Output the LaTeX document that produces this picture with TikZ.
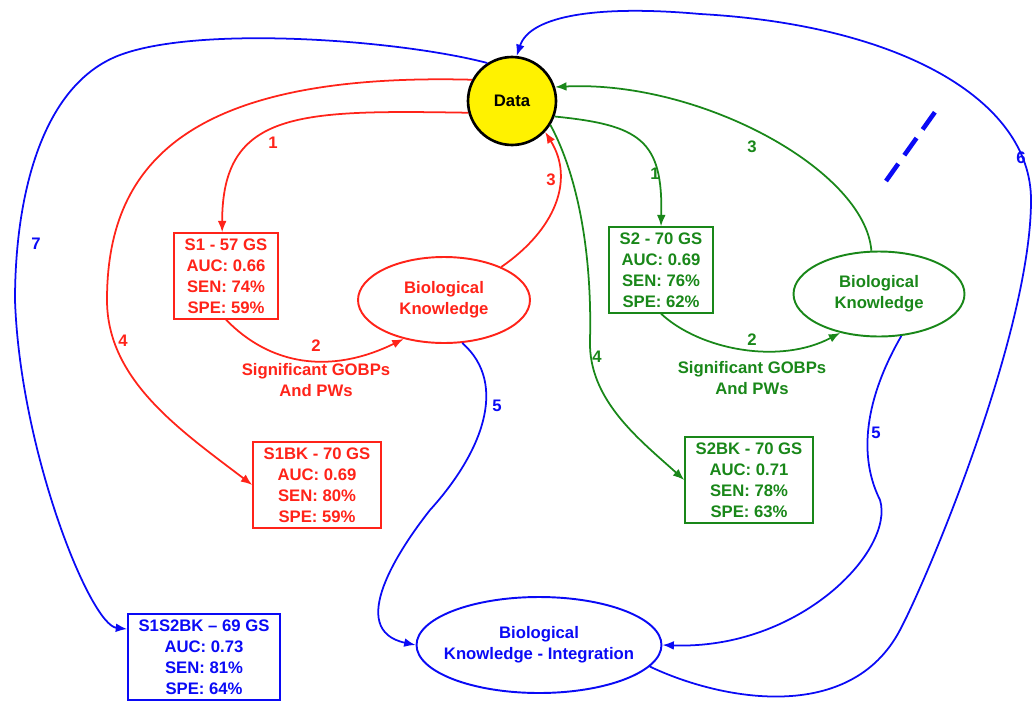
\documentclass[tikz,border=0pt]{standalone}
\usepackage{fontspec}
\setmainfont{Liberation Sans}
\usepackage{xcolor}
\usepackage{tikz}
\usetikzlibrary{positioning,arrows.meta,shapes.geometric}

\definecolor{sred}{RGB}{255,35,25}
\definecolor{sgreen}{RGB}{25,135,25}
\definecolor{sblue}{RGB}{10,10,245}

\begin{document}
\begin{tikzpicture}[x=0.02cm, y=-0.02cm,
    every node/.style={font=\fontsize{9.5}{12}\selectfont\bfseries},
    datanode/.style={circle, draw=black, fill=yellow, line width=1.5pt, minimum size=1.76cm, inner sep=0pt, text=black},
    res/.style={draw, rectangle, line width=1pt, align=center, inner xsep=6pt, inner ysep=3pt},
    know/.style={draw, ellipse, line width=1.1pt, align=center, inner sep=0pt},
    num/.style={inner sep=1pt},
    link/.style={line width=1pt, -{Latex[length=6.5pt,width=5pt]}}]
    \useasboundingbox (0,0) rectangle (1033,703);

    \node [datanode] (D) at (512,101) {Data};

    \node [res, sred] (S1) at (226,276) {S1 - 57 GS\\AUC: 0.66\\SEN: 74\%\\SPE: 59\%};
    \node [know, sred, minimum width=3.44cm, minimum height=1.72cm] (BK1) at (444,300) {Biological\\Knowledge};
    \node [res, sred] (S1BK) at (317,485) {S1BK - 70 GS\\AUC: 0.69\\SEN: 80\%\\SPE: 59\%};
    \node [sred, align=center] (G1) at (316,380) {Significant GOBPs\\And PWs};

    \node [res, sgreen] (S2) at (661,270) {S2 - 70 GS\\AUC: 0.69\\SEN: 76\%\\SPE: 62\%};
    \node [know, sgreen, minimum width=3.42cm, minimum height=1.7cm] (BK2) at (879,294) {Biological\\Knowledge};
    \node [res, sgreen] (S2BK) at (749,480) {S2BK - 70 GS\\AUC: 0.71\\SEN: 78\%\\SPE: 63\%};
    \node [sgreen, align=center] (G2) at (752,378) {Significant GOBPs\\And PWs};

    \node [res, sblue] (S12BK) at (204,657) {S1S2BK -- 69 GS\\AUC: 0.73\\SEN: 81\%\\SPE: 64\%};
    \node [know, sblue, inner xsep=-5.5pt, minimum width=4.9cm, minimum height=1.92cm] (BKI) at (539,645) {Biological\\Knowledge - Integration};

    % red
    \draw [link, sred] (D.195) .. controls (300,110) and (222,110) .. (S1.95);
    \draw [link, sred] (S1.south) .. controls (270,365) and (330,375) .. (BK1.224);
    \draw [link, sred] (BK1.30) .. controls (555,230) and (575,180) .. (D.-43);
    \draw [link, sred] (D.152) .. controls (180,72) and (107,170) .. (107,300) .. controls (107,380) and (180,430) .. (S1BK.west);
    \node [num, sred] (R1) at (273,143) {1};
    \node [num, sred] (R2) at (316,346) {2};
    \node [num, sred] (R3) at (551,180) {3};
    \node [num, sred] (R4) at (123,341) {4};

    % green
    \draw [link, sgreen] (D.-20) .. controls (640,125) and (663,140) .. (S2.north);
    \draw [link, sgreen] (S2.south) .. controls (700,350) and (780,365) .. (BK2.225);
    \draw [link, sgreen] (BK2.100) .. controls (865,170) and (700,80) .. (D.18);
    \draw [link, sgreen] (D.-32) .. controls (580,180) and (592,260) .. (590,340) .. controls (588,400) and (640,440) .. (S2BK.west);
    \node [num, sgreen] (V1) at (655,174) {1};
    \node [num, sgreen] (V2) at (752,340) {2};
    \node [num, sgreen] (V3) at (752,147) {3};
    \node [num, sgreen] (V4) at (597,357) {4};

    % blue
    \draw [link, sblue] (D.123) .. controls (400,40) and (200,25) .. (120,55) .. controls (40,85) and (15,200) .. (15,300) .. controls (20,450) and (90,625) .. (S12BK.160);
    \draw [link, sblue] (BKI.-11) .. controls (720,700) and (850,725) .. (900,630) .. controls (930,573) and (1031,330) .. (1031,200) .. controls (1031,100) and (900,25) .. (700,14) .. controls (600,5) and (530,15) .. (D.84);
    \draw [link, sblue] (BK1.293) .. controls (510,385) and (480,455) .. (430,510) .. controls (400,548) and (345,630) .. (BKI.west);
    \draw [link, sblue] (BK2.298) .. controls (870,390) and (855,450) .. (880,500) .. controls (895,550) and (800,650) .. (BKI.east);
    \node [num, sblue] (B7) at (36,244) {7};
    \node [num, sblue] (B6) at (1021,158) {6};
    \node [num, sblue] (B5a) at (497,406) {5};
    \node [num, sblue] (B5b) at (876,433) {5};

    \draw [sblue, line width=2.6pt, dash pattern=on 12pt off 6pt] (886,181) -- (935,112);
\end{tikzpicture}
\end{document}
